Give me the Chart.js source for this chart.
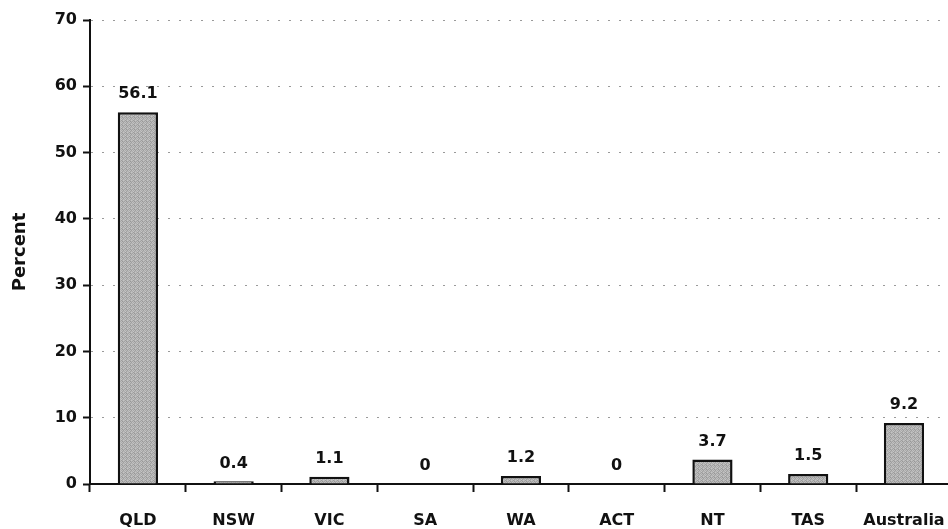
<!DOCTYPE html>
<html>
<head>
<meta charset="utf-8">
<script src="https://cdn.jsdelivr.net/npm/chart.js@4.4.0/dist/chart.umd.min.js"></script>
<style>
  html, body { margin: 0; padding: 0; background: #fff; overflow: hidden; }
  #wrap { position: relative; width: 964px; height: 529px; }
</style>
</head>
<body>
<div id="wrap"><canvas id="chart"></canvas></div>
<script>
// data
const categories = ["QLD", "NSW", "VIC", "SA", "WA", "ACT", "NT", "TAS", "Australia"];
const percentValues = [56.1, 0.4, 1.1, 0, 1.2, 0, 3.7, 1.5, 9.2];
const yTicks = [0, 10, 20, 30, 40, 50, 60, 70];

const FONT = "'DejaVu Sans', Verdana, sans-serif";

// grey stipple fill like the printed bars
function makePattern() {
  const c = document.createElement("canvas");
  c.width = 4; c.height = 4;
  const g = c.getContext("2d");
  const shades = ["#b8b8b8", "#9c9c9c", "#b0b0b0", "#c4c4c4",
                  "#a3a3a3", "#bebebe", "#979797", "#b3b3b3",
                  "#c1c1c1", "#a9a9a9", "#bcbcbc", "#9e9e9e",
                  "#adadad", "#c6c6c6", "#a1a1a1", "#b6b6b6"];
  shades.forEach((s, i) => {
    g.fillStyle = s;
    g.fillRect(i % 4, Math.floor(i / 4), 1, 1);
  });
  return g.createPattern(c, "repeat");
}

// value labels above each bar
const valueLabels = {
  id: "valueLabels",
  afterDatasetsDraw(chart) {
    const ctx = chart.ctx;
    const meta = chart.getDatasetMeta(0);
    ctx.save();
    ctx.font = "bold 16px " + FONT;
    ctx.fillStyle = "#111";
    ctx.textAlign = "center";
    ctx.textBaseline = "bottom";
    meta.data.forEach((bar, i) => {
      ctx.fillText(String(percentValues[i]), bar.x, bar.y - 10);
    });
    ctx.restore();
  }
};

new Chart(document.getElementById("chart"), {
  type: "bar",
  data: {
    labels: categories,
    datasets: [{
      data: percentValues,
      backgroundColor: makePattern(),
      borderColor: "#111",
      borderWidth: 2.5,
      barPercentage: 0.42,
      categoryPercentage: 1
    }]
  },
  options: {
    responsive: true,
    maintainAspectRatio: false,
    animation: false,
    layout: { padding: { top: 20, right: 6, left: 0, bottom: 0 } },
    plugins: {
      legend: { display: false },
      tooltip: { enabled: false }
    },
    scales: {
      x: {
        grid: {
          offset: true,
          drawOnChartArea: false,
          drawTicks: true,
          tickLength: 8,
          tickColor: "#111",
          tickWidth: 2
        },
        border: { display: true, color: "#111", width: 2 },
        ticks: {
          color: "#111",
          padding: 19,
          font: { family: FONT, size: 16, weight: "bold" }
        },
        afterFit(scale) { scale.height = 45; }
      },
      y: {
        min: 0,
        max: 70,
        afterBuildTicks(scale) { scale.ticks = yTicks.map(v => ({ value: v })); },
        grid: {
          color: "#9a9a9a",
          lineWidth: 1,
          tickLength: 7,
          tickColor: "#111",
          tickWidth: 2
        },
        border: { display: true, color: "#111", width: 2, dash: [2, 9] },
        ticks: {
          color: "#111",
          padding: 6,
          font: { family: FONT, size: 16, weight: "bold" }
        },
        title: {
          display: true,
          text: "Percent",
          color: "#111",
          padding: { top: 10, bottom: 10 },
          font: { family: FONT, size: 18, weight: "bold" }
        },
        afterFit(scale) { scale.width = 90; }
      }
    }
  },
  plugins: [valueLabels]
});
</script>
</body>
</html>
